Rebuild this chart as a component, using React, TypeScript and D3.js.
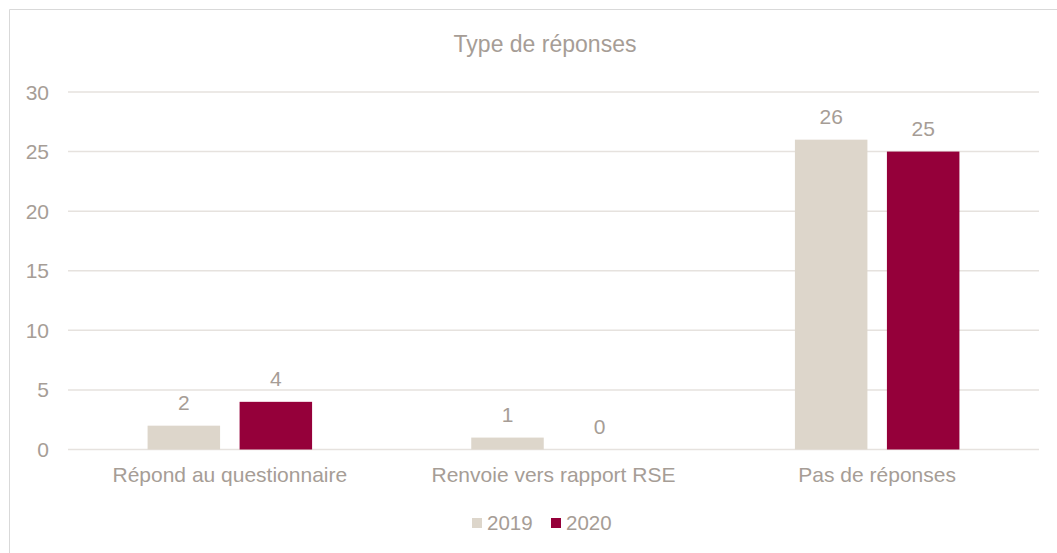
import React from 'react'
import * as d3 from 'd3'

const categories = ['Répond au questionnaire', 'Renvoie vers rapport RSE', 'Pas de réponses']
const seriesNames = ['2019', '2020']
const values2019 = [2, 1, 26]
const values2020 = [4, 0, 25]
const yTicks = [0, 5, 10, 15, 20, 25, 30]
const title = 'Type de réponses'

const colors: Record<string, string> = { '2019': '#DDD6CB', '2020': '#95003A' }
const textColor = '#A69D96'
const font = '"Liberation Sans", Arial, sans-serif'

export default function App() {
    const W = 1057
    const H = 553
    const left = 68, right = 1039, top = 92, bottom = 449.5

    const x0 = d3.scaleBand().domain(categories).range([left, right]).paddingInner(0).paddingOuter(0)
    const x1 = d3.scaleBand().domain(seriesNames).range([0, x0.bandwidth()]).paddingInner(0.212).paddingOuter(0.865)
    const y = d3.scaleLinear().domain([0, 30]).range([bottom, top])

    const rows = categories.map((c, i) => ({ c, vals: [values2019[i], values2020[i]] }))

    return (
        <>
            <style>{`body{margin:0}`}</style>
            <svg width={W} height={H} style={{ display: 'block', fontFamily: font }}>
                {/* only the top and left edges of the chart frame are inside the picture */}
                <path d={`M9.5,${H} V9.5 H${W}`} fill="none" stroke="#D9D9D9" strokeWidth={1} />
                <text x={545} y={52} textAnchor="middle" fontSize={23} fill={textColor}>{title}</text>

                {yTicks.map(t => (
                    <g key={t}>
                        <line x1={left} x2={right} y1={y(t)} y2={y(t)} stroke="#E6E2DE" strokeWidth={1.5} />
                        <text x={49} y={y(t) + 7.5} textAnchor="end" fontSize={21} fill={textColor}>{t}</text>
                    </g>
                ))}

                {rows.map(r => (
                    <g key={r.c} transform={`translate(${x0(r.c)},0)`}>
                        {seriesNames.map((s, j) => {
                            const v = r.vals[j]
                            const bx = x1(s)!
                            return (
                                <g key={s}>
                                    <rect x={bx} y={y(v)} width={x1.bandwidth()} height={y(0) - y(v)} fill={colors[s]} />
                                    <text x={bx + x1.bandwidth() / 2} y={y(v) - 16} textAnchor="middle" fontSize={21} fill={textColor}>{v}</text>
                                </g>
                            )
                        })}
                        <text x={x0.bandwidth() / 2} y={482} textAnchor="middle" fontSize={21} fill={textColor}>{r.c}</text>
                    </g>
                ))}

                {seriesNames.map((s, i) => {
                    const lx = 472 + i * 79
                    return (
                        <g key={s}>
                            <rect x={lx} y={518} width={10} height={10} fill={colors[s]} />
                            <text x={lx + 15} y={530} fontSize={20.5} fill={textColor}>{s}</text>
                        </g>
                    )
                })}
            </svg>
        </>
    )
}
